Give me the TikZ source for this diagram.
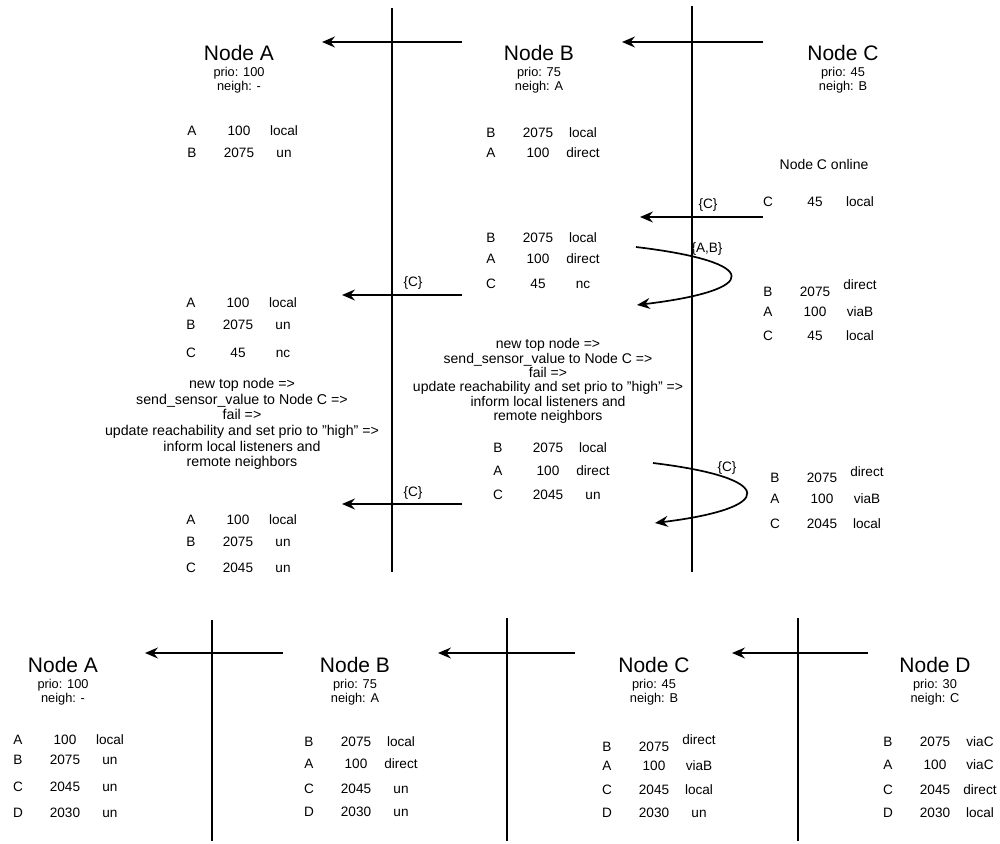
\documentclass[tikz,border=0pt]{standalone}
\usepackage{fontspec}
\setmainfont{Liberation Sans}
\usetikzlibrary{arrows.meta}

\tikzset{
  nodetitle/.style={font=\fontsize{21}{25}\selectfont, inner sep=0pt},
  nodeinfo/.style={font=\fontsize{12.8}{14}\selectfont, align=center, inner sep=0pt},
  cell/.style={font=\fontsize{13.6}{15}\selectfont, inner sep=0pt, text height=9.8pt, text depth=0pt},
  note/.style={font=\fontsize{14.2}{15.6}\selectfont, align=center, inner sep=0pt},
  lifeline/.style={line width=1.7pt},
  msg/.style={line width=1.7pt, -{Stealth[length=13pt,width=11pt,inset=4.5pt]}},
  msglabel/.style={font=\fontsize{13.6}{15}\selectfont, inner sep=0pt, text height=9.8pt, text depth=2.6pt},
}

% header of a node column: name, x, y, title, prio line, neighbour line
\newcommand\peerhead[6]{%
  \node[nodetitle] (#1-title) at (#2,#3) {#4};
  \node[nodeinfo] (#1-info) at (#2,#3+27) {#5\\#6};
}
% one routing table row: name, centre x, y, letter, value, state, state y
\newcommand\routerow[7]{%
  \node[cell] (#1-l) at (#2-47,#3) {#4};
  \node[cell] (#1-n) at (#2,#3) {#5};
  \node[cell] (#1-s) at (#2+45,#7) {#6};
}

\begin{document}
\begin{tikzpicture}[x=1pt,y=-1pt]
\useasboundingbox (0,0) rectangle (1000,843);

% ---------- first scenario: three nodes ----------
\coordinate (ab-top) at (392,8);  \coordinate (ab-bot) at (392,572);
\coordinate (bc-top) at (692,6);  \coordinate (bc-bot) at (692,572);
\draw[lifeline] (ab-top) -- (ab-bot);
\draw[lifeline] (bc-top) -- (bc-bot);

\coordinate (m1s) at (462,42); \coordinate (m1e) at (322,42);
\coordinate (m2s) at (763,42); \coordinate (m2e) at (622,42);
\draw[msg] (m1s) -- (m1e);
\draw[msg] (m2s) -- (m2e);

\peerhead{tA}{239}{53}{Node A}{prio: 100}{neigh: -}
\peerhead{tB}{539}{53}{Node B}{prio: 75}{neigh: A}
\peerhead{tC}{843}{53}{Node C}{prio: 45}{neigh: B}

\routerow{a1r1}{239}{131}{A}{100}{local}{131}
\routerow{a1r2}{239}{153}{B}{2075}{un}{153}

\routerow{b1r1}{538}{133}{B}{2075}{local}{133}
\routerow{b1r2}{538}{153}{A}{100}{direct}{153}

\node[cell, font=\fontsize{14}{15}\selectfont] (online) at (824,165) {Node C online};
\routerow{c1r1}{815}{202}{C}{45}{local}{202}

\coordinate (m3s) at (763,217); \coordinate (m3e) at (640,217);
\draw[msg] (m3s) -- (m3e);
\node[msglabel] (m3lab) at (708,205) {\{C\}};

\routerow{b2r1}{538}{238}{B}{2075}{local}{238}
\routerow{b2r2}{538}{259}{A}{100}{direct}{259}
\routerow{b2r3}{538}{284}{C}{45}{nc}{284}

\coordinate (m4s) at (636,247); \coordinate (m4e) at (637,305);
\draw[msg] (m4s) .. controls (762,262) and (762,290) .. (m4e);
\node[msglabel] (m4lab) at (707,249) {\{A,B\}};

\routerow{c2r1}{815}{292}{B}{2075}{direct}{285}
\routerow{c2r2}{815}{312}{A}{100}{viaB}{312}
\routerow{c2r3}{815}{336}{C}{45}{local}{336}

\coordinate (m5s) at (462,295); \coordinate (m5e) at (342,295);
\draw[msg] (m5s) -- (m5e);
\node[msglabel] (m5lab) at (413,283) {\{C\}};

\routerow{a2r1}{238}{303}{A}{100}{local}{303}
\routerow{a2r2}{238}{325}{B}{2075}{un}{325}
\routerow{a2r3}{238}{353}{C}{45}{nc}{353}

\node[note] (a-note) at (242,424) {new top node =>\\send\_sensor\_value to Node C =>\\fail =>\\update reachability and set prio to "high" =>\\inform local listeners and\\remote neighbors};

\node[note, font=\fontsize{14}{14.4}\selectfont] (b-note) at (548,381) {new top node =>\\send\_sensor\_value to Node C =>\\fail =>\\update reachability and set prio to "high" =>\\inform local listeners and\\remote neighbors};

\node[cell] (b3r1-l) at (498,448) {B};
\node[cell] (b3r1-n) at (548,448) {2075};
\node[cell] (b3r1-s) at (593,448) {local};
\node[cell] (b3r2-l) at (498,471) {A};
\node[cell] (b3r2-n) at (548,471) {100};
\node[cell] (b3r2-s) at (593,471) {direct};
\node[cell] (b3r3-l) at (498,495) {C};
\node[cell] (b3r3-n) at (548,495) {2045};
\node[cell] (b3r3-s) at (593,495) {un};

\coordinate (m6s) at (653,463); \coordinate (m6e) at (655,523);
\draw[msg] (m6s) .. controls (777,478) and (777,508) .. (m6e);
\node[msglabel] (m6lab) at (727,468) {\{C\}};

\routerow{c3r1}{822}{478}{B}{2075}{direct}{472}
\routerow{c3r2}{822}{499}{A}{100}{viaB}{499}
\routerow{c3r3}{822}{524}{C}{2045}{local}{524}

\coordinate (m7s) at (462,504); \coordinate (m7e) at (342,504);
\draw[msg] (m7s) -- (m7e);
\node[msglabel] (m7lab) at (413,493) {\{C\}};

\routerow{a3r1}{238}{520}{A}{100}{local}{520}
\routerow{a3r2}{238}{542}{B}{2075}{un}{542}
\routerow{a3r3}{238}{568}{C}{2045}{un}{568}

% ---------- second scenario: four nodes ----------
\coordinate (ab2-top) at (212,620); \coordinate (ab2-bot) at (212,841);
\coordinate (bc2-top) at (507,618); \coordinate (bc2-bot) at (507,841);
\coordinate (cd2-top) at (798,618); \coordinate (cd2-bot) at (798,841);
\draw[lifeline] (ab2-top) -- (ab2-bot);
\draw[lifeline] (bc2-top) -- (bc2-bot);
\draw[lifeline] (cd2-top) -- (cd2-bot);

\coordinate (n1s) at (283,653); \coordinate (n1e) at (145,653);
\coordinate (n2s) at (575,653); \coordinate (n2e) at (438,653);
\coordinate (n3s) at (868,653); \coordinate (n3e) at (732,653);
\draw[msg] (n1s) -- (n1e);
\draw[msg] (n2s) -- (n2e);
\draw[msg] (n3s) -- (n3e);

\peerhead{bA}{63}{665}{Node A}{prio: 100}{neigh: -}
\peerhead{bB}{355}{665}{Node B}{prio: 75}{neigh: A}
\peerhead{bC}{654}{665}{Node C}{prio: 45}{neigh: B}
\peerhead{bD}{935}{665}{Node D}{prio: 30}{neigh: C}

\routerow{dAr1}{65}{740}{A}{100}{local}{740}
\routerow{dAr2}{65}{760}{B}{2075}{un}{760}
\routerow{dAr3}{65}{787}{C}{2045}{un}{787}
\routerow{dAr4}{65}{813}{D}{2030}{un}{813}

\routerow{dBr1}{356}{742}{B}{2075}{local}{742}
\routerow{dBr2}{356}{764}{A}{100}{direct}{764}
\routerow{dBr3}{356}{789}{C}{2045}{un}{789}
\routerow{dBr4}{356}{812}{D}{2030}{un}{812}

\routerow{dCr1}{654}{747}{B}{2075}{direct}{740}
\routerow{dCr2}{654}{766}{A}{100}{viaB}{766}
\routerow{dCr3}{654}{790}{C}{2045}{local}{790}
\routerow{dCr4}{654}{813}{D}{2030}{un}{813}

\routerow{dDr1}{935}{742}{B}{2075}{viaC}{742}
\routerow{dDr2}{935}{765}{A}{100}{viaC}{765}
\routerow{dDr3}{935}{790}{C}{2045}{direct}{790}
\routerow{dDr4}{935}{813}{D}{2030}{local}{813}

\end{tikzpicture}
\end{document}
